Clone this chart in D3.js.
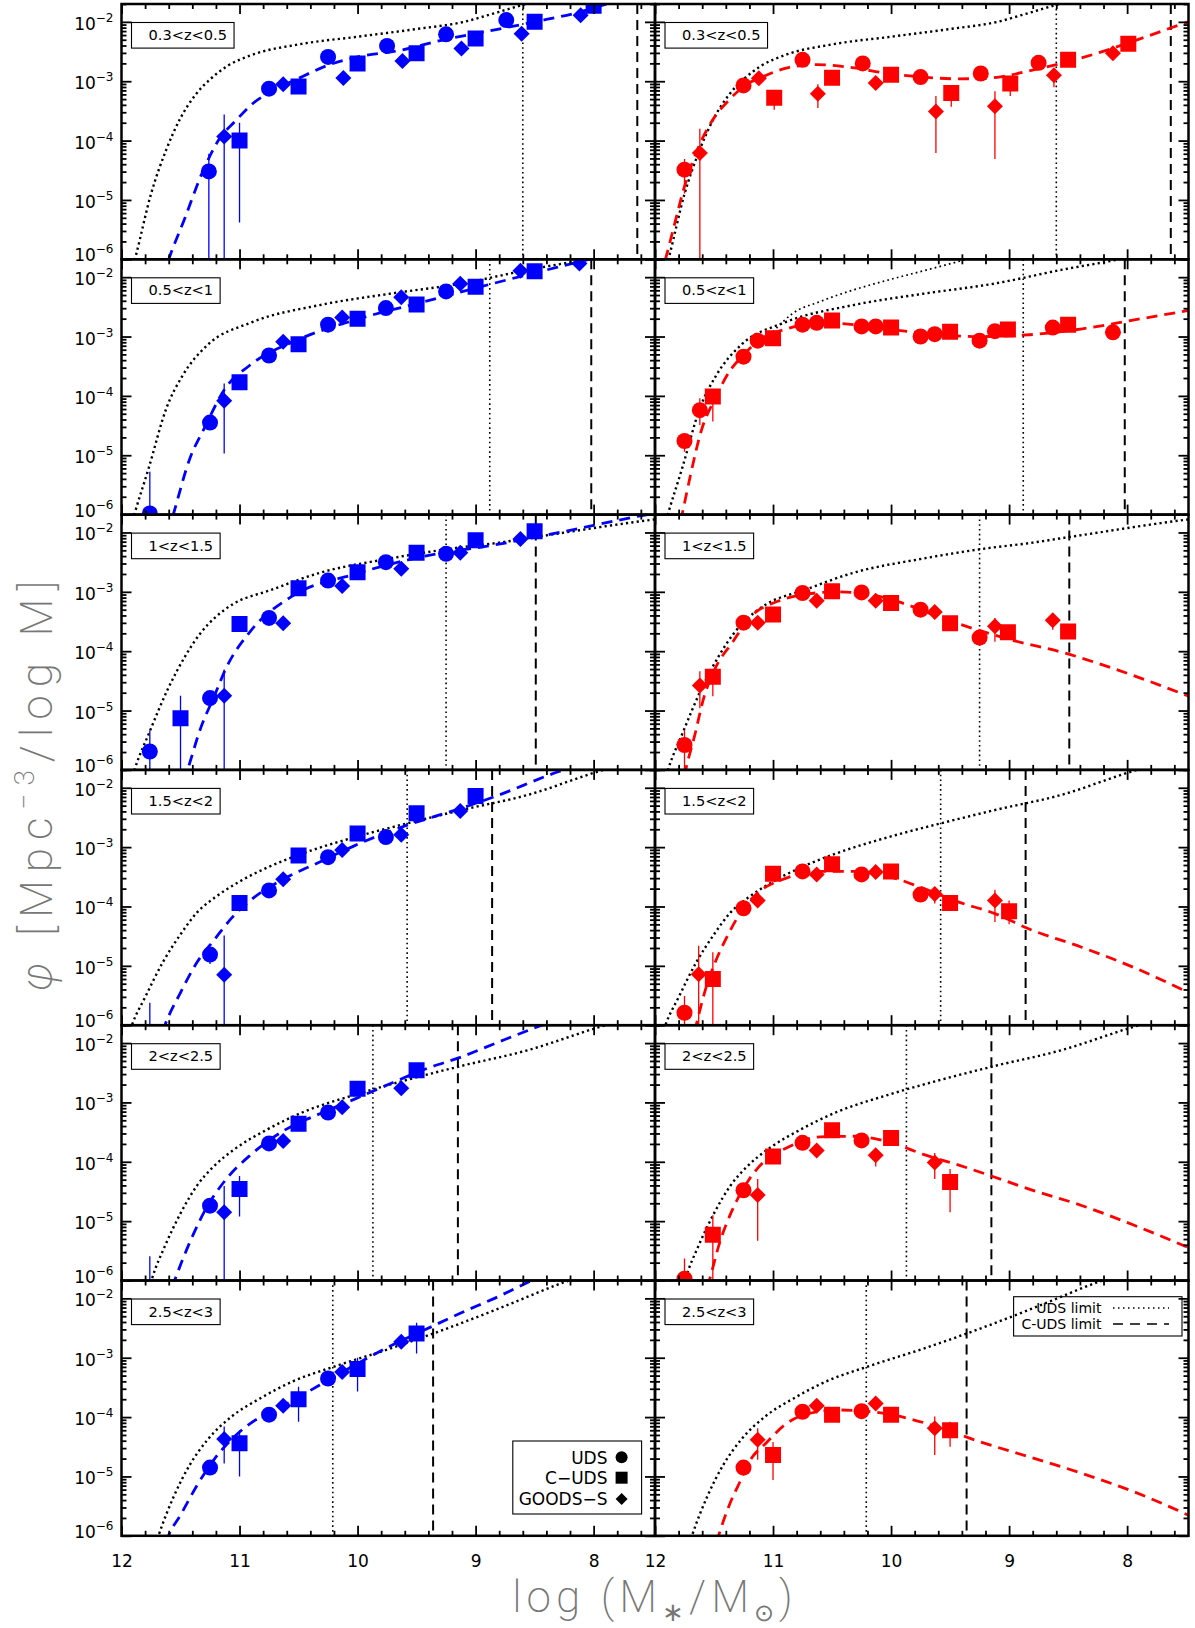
<!DOCTYPE html>
<html><head><meta charset="utf-8">
<script src="https://cdn.jsdelivr.net/npm/d3@7"></script>
<style>body{margin:0;background:#fff}svg{display:block}</style>
</head><body>
<svg id="c" width="1195" height="1628"></svg>
<script>
// ---------- data (log10 mass, log10 phi [, err upper, err lower]) ----------
const zLabels = ["0.3<z<0.5", "0.5<z<1", "1<z<1.5", "1.5<z<2", "2<z<2.5", "2.5<z<3"];
const udsLimit = [8.60, 8.88, 9.25, 9.58, 9.87, 10.21];
const cudsLimit = [7.63, 8.02, 8.49, 8.86, 9.15, 9.36];
const xTickValues = [12, 11, 10, 9, 8];
const yTickValues = [1e-2, 1e-3, 1e-4, 1e-5, 1e-6];

// total mass function (black dotted), one per redshift bin
const totalMF = [
  [[12.0,-6.8],[11.88,-5.95],[11.75,-4.9],[11.62,-4.15],[11.5,-3.62],[11.37,-3.22],[11.25,-2.97],[11.1,-2.74],[10.9,-2.56],[10.5,-2.38],[10.0,-2.25],[9.5,-2.12],[9.1,-2.0],[8.85,-1.86],[8.63,-1.73],[8.4,-1.6]],
  [[12.0,-6.8],[11.89,-5.99],[11.77,-5.22],[11.62,-4.21],[11.48,-3.65],[11.27,-3.14],[10.91,-2.77],[10.32,-2.47],[9.73,-2.28],[9.13,-2.11],[8.54,-1.87],[8.10,-1.71],[7.9,-1.62]],
  [[12.0,-6.8],[11.89,-6.0],[11.76,-5.35],[11.61,-4.65],[11.45,-4.05],[11.34,-3.72],[11.2,-3.42],[11.05,-3.2],[10.75,-2.98],[10.32,-2.68],[9.73,-2.44],[9.2,-2.27],[8.83,-2.18],[8.5,-2.08],[7.52,-1.79],[7.4,-1.76]],
  [[12.0,-6.6],[11.91,-5.99],[11.80,-5.53],[11.65,-4.94],[11.50,-4.47],[11.36,-4.1],[11.21,-3.85],[11.0,-3.58],[10.76,-3.34],[10.47,-3.11],[10.02,-2.83],[9.58,-2.60],[9.13,-2.38],[8.54,-2.11],[8.0,-1.75],[7.9,-1.69]],
  [[11.8,-6.4],[11.74,-5.96],[11.63,-5.41],[11.50,-4.87],[11.36,-4.4],[11.23,-4.1],[11.03,-3.77],[10.76,-3.45],[10.47,-3.17],[10.02,-2.87],[9.58,-2.62],[9.13,-2.39],[8.54,-2.11],[8.0,-1.76],[7.9,-1.7]],
  [[11.75,-6.4],[11.68,-5.96],[11.56,-5.35],[11.42,-4.80],[11.27,-4.38],[11.06,-3.98],[10.83,-3.69],[10.55,-3.40],[10.2,-3.15],[9.73,-2.85],[9.3,-2.55],[8.84,-2.20],[8.24,-1.72],[8.1,-1.62]]
];
// extra fine dotted curve seen in the 0.5<z<1 quiescent panel
const totalMFExtra = [[11.0,-2.92],[10.84,-2.62],[10.6,-2.41],[10.31,-2.21],[10.01,-2.04],[9.72,-1.89],[9.42,-1.73],[9.3,-1.66]];

// star-forming fits (blue dashed)
const sfFit = [
  [[11.7,-6.6],[11.60,-6.0],[11.46,-5.29],[11.32,-4.56],[11.18,-4.0],[11.03,-3.66],[10.89,-3.38],[10.71,-3.15],[10.53,-2.98],[10.25,-2.73],[10.0,-2.59],[9.64,-2.48],[9.29,-2.31],[8.93,-2.17],[8.5,-2.0],[8.11,-1.83],[7.89,-1.70],[7.7,-1.6]],
  [[11.65,-6.6],[11.56,-5.99],[11.42,-5.05],[11.30,-4.55],[11.12,-3.87],[10.91,-3.48],[10.50,-3.05],[10.02,-2.72],[9.43,-2.41],[8.84,-2.10],[8.04,-1.70],[7.9,-1.63]],
  [[11.52,-6.5],[11.44,-6.0],[11.33,-5.30],[11.21,-4.74],[11.12,-4.31],[10.91,-3.67],[10.56,-3.08],[10.02,-2.70],[9.43,-2.40],[8.84,-2.21],[8.24,-1.98],[7.52,-1.69],[7.4,-1.65]],
  [[11.7,-6.4],[11.63,-5.99],[11.50,-5.45],[11.36,-4.94],[11.21,-4.55],[11.06,-4.18],[10.91,-3.90],[10.62,-3.53],[10.32,-3.25],[10.02,-2.97],[9.58,-2.63],[9.13,-2.35],[8.84,-2.15],[8.30,-1.73],[8.1,-1.6]],
  [[11.62,-6.4],[11.55,-6.0],[11.42,-5.35],[11.27,-4.74],[11.12,-4.31],[10.91,-3.89],[10.62,-3.47],[10.32,-3.19],[10.02,-2.94],[9.73,-2.69],[9.43,-2.44],[9.13,-2.24],[8.84,-2.01],[8.48,-1.73],[8.3,-1.6]],
  [[11.67,-6.4],[11.60,-5.99],[11.50,-5.65],[11.36,-5.15],[11.21,-4.70],[11.06,-4.36],[10.91,-4.11],[10.62,-3.80],[10.32,-3.46],[10.02,-3.12],[9.73,-2.81],[9.43,-2.53],[9.13,-2.25],[8.84,-2.0],[8.51,-1.69],[8.4,-1.6]]
];
// quiescent fits (red dashed)
const qFit = [
  [[12.0,-6.6],[11.91,-5.99],[11.84,-5.45],[11.75,-4.77],[11.64,-4.15],[11.52,-3.68],[11.37,-3.31],[11.22,-3.05],[11.07,-2.91],[10.87,-2.77],[10.63,-2.72],[10.33,-2.77],[10.03,-2.87],[9.73,-2.93],[9.43,-2.96],[9.13,-2.94],[8.84,-2.83],[8.54,-2.69],[8.24,-2.52],[7.94,-2.32],[7.54,-2.04],[7.45,-1.98]],
  [[11.82,-6.4],[11.77,-5.99],[11.70,-5.34],[11.61,-4.60],[11.49,-4.04],[11.37,-3.59],[11.25,-3.31],[11.11,-3.05],[10.90,-2.88],[10.60,-2.77],[10.31,-2.80],[10.01,-2.88],[9.72,-2.94],[9.27,-3.0],[8.83,-2.97],[8.38,-2.87],[7.94,-2.72],[7.45,-2.55]],
  [[11.78,-6.4],[11.74,-6.0],[11.67,-5.47],[11.58,-4.74],[11.49,-4.29],[11.34,-3.84],[11.20,-3.44],[10.96,-3.16],[10.75,-3.05],[10.46,-3.0],[10.16,-3.05],[9.86,-3.22],[9.57,-3.44],[9.27,-3.64],[8.98,-3.81],[8.53,-4.03],[8.09,-4.31],[7.45,-4.78]],
  [[11.7,-6.4],[11.65,-5.99],[11.58,-5.45],[11.49,-4.94],[11.40,-4.55],[11.28,-4.12],[11.14,-3.79],[10.90,-3.53],[10.60,-3.41],[10.31,-3.41],[10.01,-3.50],[9.72,-3.70],[9.42,-3.93],[9.12,-4.12],[8.83,-4.38],[8.38,-4.69],[7.94,-5.03],[7.45,-5.48]],
  [[11.6,-6.4],[11.54,-6.0],[11.45,-5.35],[11.34,-4.79],[11.20,-4.29],[11.05,-3.95],[10.90,-3.78],[10.60,-3.58],[10.31,-3.57],[10.01,-3.67],[9.72,-3.88],[9.42,-4.06],[9.12,-4.26],[8.83,-4.46],[8.38,-4.74],[7.94,-5.07],[7.45,-5.47]],
  [[11.52,-6.4],[11.46,-5.99],[11.37,-5.48],[11.28,-5.09],[11.20,-4.75],[11.05,-4.42],[10.90,-4.13],[10.75,-3.97],[10.46,-3.88],[10.16,-3.91],[9.86,-4.02],[9.57,-4.19],[9.27,-4.40],[8.83,-4.67],[8.38,-4.95],[7.94,-5.26],[7.45,-5.68]]
];

// star-forming points
const sfUDS = [
  [[11.26,-4.52,-4.22,-7],[10.75,-3.125],[10.25,-2.59],[9.75,-2.405],[9.25,-2.21],[8.74,-1.97]],
  [[11.76,-5.98,-5.28,-7],[11.25,-4.45],[10.75,-3.32],[10.25,-2.80],[9.76,-2.52],[9.25,-2.24]],
  [[11.76,-5.69,-5.33,-7],[11.25,-4.79],[10.75,-3.44],[10.25,-2.81],[9.76,-2.50],[9.25,-2.36]],
  [[11.76,-6.3,-5.62,-7],[11.25,-4.81,-4.7,-4.97],[10.75,-3.73],[10.25,-3.17],[9.76,-2.83]],
  [[11.76,-6.3,-5.59,-7],[11.25,-4.74],[10.75,-3.69],[10.25,-3.17]],
  [[11.25,-4.85],[10.75,-3.96],[10.25,-3.35]]
];
const sfCUDS = [
  [[11.0,-4.0,-3.70,-5.38],[10.5,-3.09],[10.0,-2.70],[9.5,-2.53],[9.0,-2.28],[8.5,-2.0],[8.0,-1.73]],
  [[11.0,-3.77],[10.5,-3.13],[10.0,-2.70],[9.5,-2.46],[9.0,-2.16],[8.5,-1.90]],
  [[11.5,-5.13,-4.75,-7],[11.0,-3.54],[10.5,-2.94],[10.0,-2.67],[9.5,-2.34],[9.0,-2.13],[8.5,-1.98]],
  [[11.0,-3.94],[10.5,-3.14],[10.0,-2.77],[9.5,-2.43],[9.0,-2.14]],
  [[11.0,-4.46,-4.24,-4.92],[10.5,-3.36],[10.0,-2.77],[9.5,-2.46]],
  [[11.0,-4.44,-4.22,-5.0],[10.5,-3.70,-3.49,-4.08],[10.0,-3.19,-3.0,-3.57],[9.5,-2.59,-2.41,-2.93]]
];
const sfGOODS = [
  [[11.13,-3.93,-3.56,-7],[10.63,-3.05],[10.12,-2.945],[9.62,-2.66],[9.12,-2.45],[8.61,-2.20],[8.11,-1.89]],
  [[11.13,-4.08,-3.79,-4.97],[10.63,-3.09],[10.13,-2.68],[9.63,-2.34],[9.13,-2.11],[8.62,-1.89],[8.12,-1.77]],
  [[11.13,-4.75,-4.31,-7],[10.63,-3.53],[10.13,-2.90],[9.63,-2.61],[9.13,-2.34],[8.62,-2.11]],
  [[11.13,-5.15,-4.49,-7],[10.63,-3.54],[10.13,-3.05],[9.63,-2.79],[9.13,-2.39]],
  [[11.13,-4.85,-4.41,-7],[10.63,-3.65],[10.13,-3.08],[9.63,-2.76]],
  [[11.13,-4.37,-4.16,-4.78],[10.63,-3.81],[10.13,-3.24],[9.63,-2.73]]
];
// quiescent points
const qUDS = [
  [[11.75,-4.49,-4.31,-4.89],[11.25,-3.07],[10.75,-2.64],[10.24,-2.70],[9.75,-2.93],[9.24,-2.87],[8.75,-2.69]],
  [[11.75,-4.76,-4.66,-4.94],[11.62,-4.24,-4.04,-4.49],[11.25,-3.34],[11.13,-3.07],[10.75,-2.80],[10.63,-2.77],[10.25,-2.83],[10.13,-2.83],[9.75,-3.0],[9.63,-2.96],[9.25,-3.07],[9.12,-2.91],[8.63,-2.85],[8.12,-2.93]],
  [[11.75,-5.58,-5.33,-6.2],[11.25,-3.52],[10.75,-3.02],[10.25,-3.01],[9.75,-3.30],[9.25,-3.77]],
  [[11.75,-5.79,-5.51,-7],[11.25,-4.03],[10.75,-3.41],[10.25,-3.46],[9.75,-3.80]],
  [[11.75,-5.97,-5.63,-7],[11.25,-4.48],[10.75,-3.68],[10.25,-3.64]],
  [[11.25,-4.85],[10.75,-3.91],[10.25,-3.90]]
];
const qCUDS = [
  [[10.99,-3.28,-3.2,-3.48],[10.5,-2.94],[10.0,-2.89],[9.49,-3.20,-3.1,-3.43],[8.99,-3.04,-2.95,-3.25],[8.5,-2.64],[7.99,-2.37]],
  [[11.51,-4.01,-3.9,-4.43],[11.0,-3.03],[10.5,-2.73],[10.0,-2.85],[9.5,-2.92],[9.01,-2.88],[8.5,-2.80]],
  [[11.51,-4.43,-4.3,-4.76],[11.0,-3.38],[10.5,-2.99],[10.0,-3.19],[9.5,-3.53],[9.01,-3.68],[8.5,-3.67]],
  [[11.51,-5.22,-4.77,-7],[11.0,-3.45],[10.5,-3.29],[10.0,-3.41],[9.5,-3.94,-3.85,-4.05],[9.0,-4.08,-3.9,-4.3]],
  [[11.51,-5.23,-4.9,-7],[11.0,-3.91],[10.5,-3.47],[10.0,-3.60],[9.5,-4.34,-4.12,-4.85]],
  [[11.0,-4.64,-4.42,-5.06],[10.5,-3.96],[10.0,-3.96],[9.5,-4.22,-4.08,-4.5]]
];
const qGOODS = [
  [[11.62,-4.21,-3.80,-7],[11.12,-2.95],[10.62,-3.21,-3.05,-3.45],[10.13,-3.03],[9.62,-3.51,-3.25,-4.21],[9.12,-3.42,-3.17,-4.31],[8.62,-2.90,-2.8,-3.1],[8.12,-2.53]],
  [],
  [[11.62,-4.58,-4.34,-4.96],[11.13,-3.52],[10.63,-3.15],[10.13,-3.15],[9.63,-3.34],[9.12,-3.58,-3.44,-3.84],[8.63,-3.48,-3.4,-3.64]],
  [[11.63,-5.14,-4.66,-7],[11.13,-3.90],[10.63,-3.46],[10.13,-3.42],[9.63,-3.79,-3.7,-3.95],[9.12,-3.90,-3.72,-4.26]],
  [[11.13,-4.56,-4.29,-5.33],[10.63,-3.81],[10.13,-3.89,-3.8,-4.08],[9.63,-4.01,-3.85,-4.29]],
  [[11.13,-4.38,-4.19,-4.72],[10.63,-3.81],[10.13,-3.77],[9.63,-4.19,-3.99,-4.64]]
];

// ---------- drawing ----------
const svg = d3.select('#c');
const defs = svg.append('defs');
const W = 533.5, H = 255.3, X0 = [121.5, 655], Y0 = 4;
const BLUE = '#0000ff', RED = '#ff0000';
const FONT = "'DejaVu Sans', sans-serif";

function drawMarker(sel, shape, color, x, yv) {
  if (shape === 'circle') {
    sel.append('circle').attr('cx', p => x(p[0])).attr('cy', p => yv(p[1])).attr('r', 8).attr('fill', color);
  } else if (shape === 'square') {
    sel.append('path').attr('d', d3.symbol(d3.symbolSquare, 256)())
      .attr('transform', p => `translate(${x(p[0])},${yv(p[1])})`).attr('fill', color);
  } else {
    sel.append('path').attr('d', d3.symbol(d3.symbolSquare, 128)())
      .attr('transform', p => `translate(${x(p[0])},${yv(p[1])}) rotate(45)`).attr('fill', color);
  }
}

function tickAxis(g, axis, transform, values, size) {
  const a = g.append('g').attr('transform', transform)
    .call(axis.tickValues(values).tickSize(size).tickFormat(''));
  a.select('.domain').remove();
  a.selectAll('text').remove();
  a.selectAll('line').attr('stroke', '#000').attr('stroke-width', 1.8);
}

const minorX = d3.range(0, 23).map(i => 12 - i * 0.2).filter(v => Math.abs(v - Math.round(v)) > 1e-6 && v > 7.48);
const minorY = [];
for (let e = -6; e <= -2; e++) for (let m = 2; m <= 9; m++) { const v = m * Math.pow(10, e); if (v <= 2e-2) minorY.push(v); }

for (let r = 0; r < 6; r++) {
  for (let c = 0; c < 2; c++) {
    const x0 = X0[c], y0 = Y0 + r * H;
    const x = d3.scaleLinear().domain([12, 7.48]).range([x0, x0 + W]);
    const y = d3.scaleLog().domain([1e-6, 2e-2]).range([y0 + H, y0]);
    const yv = v => y(Math.pow(10, v));
    const g = svg.append('g');
    const id = `clip${r}${c}`;
    defs.append('clipPath').attr('id', id).append('rect').attr('x', x0).attr('y', y0).attr('width', W).attr('height', H);
    const inner = g.append('g').attr('clip-path', `url(#${id})`);

    // completeness limits
    inner.append('line').attr('x1', x(udsLimit[r])).attr('x2', x(udsLimit[r])).attr('y1', y0).attr('y2', y0 + H)
      .attr('stroke', '#000').attr('stroke-width', 1.6).attr('stroke-dasharray', '1.6,3.2');
    inner.append('line').attr('x1', x(cudsLimit[r])).attr('x2', x(cudsLimit[r])).attr('y1', y0).attr('y2', y0 + H)
      .attr('stroke', '#000').attr('stroke-width', 2).attr('stroke-dasharray', '10,6');

    const line = d3.line().x(d => x(d[0])).y(d => yv(d[1])).curve(d3.curveMonotoneX);
    inner.append('path').attr('d', line(totalMF[r])).attr('fill', 'none').attr('stroke', '#000')
      .attr('stroke-width', 2.4).attr('stroke-dasharray', '2.2,3.2');
    if (r === 1 && c === 1) {
      inner.append('path').attr('d', line(totalMFExtra)).attr('fill', 'none').attr('stroke', '#000')
        .attr('stroke-width', 1.7).attr('stroke-dasharray', '1.7,3.2');
    }
    const color = c === 0 ? BLUE : RED;
    inner.append('path').attr('d', line(c === 0 ? sfFit[r] : qFit[r])).attr('fill', 'none').attr('stroke', color)
      .attr('stroke-width', 2.8).attr('stroke-dasharray', '11,7');

    const sets = c === 0 ? [[sfUDS, 'circle'], [sfCUDS, 'square'], [sfGOODS, 'diamond']]
                         : [[qUDS, 'circle'], [qCUDS, 'square'], [qGOODS, 'diamond']];
    sets.forEach(([arr, shape]) => {
      const pts = arr[r];
      inner.selectAll(null).data(pts.filter(p => p.length > 2)).enter().append('line')
        .attr('x1', p => x(p[0])).attr('x2', p => x(p[0]))
        .attr('y1', p => yv(p[2])).attr('y2', p => yv(p[3]))
        .attr('stroke', color).attr('stroke-width', 1.3);
      const sel = inner.selectAll(null).data(pts).enter().append('g');
      drawMarker(sel, shape, color, x, yv);
    });

    // ticks (inward, all four sides)
    tickAxis(g, d3.axisBottom(x), `translate(0,${y0 + H})`, xTickValues, -10);
    tickAxis(g, d3.axisBottom(x), `translate(0,${y0 + H})`, minorX, -5);
    tickAxis(g, d3.axisTop(x), `translate(0,${y0})`, xTickValues, -10);
    tickAxis(g, d3.axisTop(x), `translate(0,${y0})`, minorX, -5);
    tickAxis(g, d3.axisLeft(y), `translate(${x0},0)`, yTickValues, -10);
    tickAxis(g, d3.axisLeft(y), `translate(${x0},0)`, minorY, -5);
    tickAxis(g, d3.axisRight(y), `translate(${x0 + W},0)`, yTickValues, -10);
    tickAxis(g, d3.axisRight(y), `translate(${x0 + W},0)`, minorY, -5);

    g.append('rect').attr('x', x0).attr('y', y0).attr('width', W).attr('height', H)
      .attr('fill', 'none').attr('stroke', '#000').attr('stroke-width', 2.5);

    // redshift label box
    const lt = g.append('text').attr('x', x0 + 27).attr('y', y0 + 36)
      .attr('font-family', FONT).attr('font-size', 14.6).attr('fill', '#000').text(zLabels[r]);
    const tw = lt.node().getComputedTextLength();
    g.insert('rect', 'text').attr('x', x0 + 10).attr('y', y0 + 18.5).attr('width', tw + 24).attr('height', 25.6)
      .attr('fill', '#fff').attr('stroke', '#000').attr('stroke-width', 1.1);

    // y tick labels (left column)
    if (c === 0) {
      const la = g.append('g').attr('transform', `translate(${x0},0)`)
        .call(d3.axisLeft(y).tickValues(yTickValues).tickSize(0).tickPadding(8).tickFormat(''));
      la.select('.domain').remove();
      la.attr('font-family', FONT).attr('font-size', 17);
      la.selectAll('.tick text').each(function (d) {
        const t = d3.select(this).attr('fill', '#000').attr('dy', null).attr('y', d === 1e-6 ? 1.5 : 7.5);
        t.append('tspan').text('10');
        t.append('tspan').attr('font-size', 12).attr('dy', -8).text('−' + Math.round(-Math.log10(d)));
      });
    }
    // x tick labels (bottom row)
    if (r === 5) {
      const xa = g.append('g').attr('transform', `translate(0,${y0 + H})`)
        .call(d3.axisBottom(x).tickValues(xTickValues).tickSize(0).tickFormat(d3.format('d')));
      xa.select('.domain').remove();
      xa.attr('font-family', FONT).attr('font-size', 17);
      xa.selectAll('.tick text').attr('fill', '#000').attr('dy', null).attr('y', 31.5);
    }

    // legends
    if (r === 5 && c === 0) {
      const lg = g.append('g');
      lg.append('rect').attr('x', x0 + W - 142.2).attr('y', y0 + 160.5).attr('width', 128.8).attr('height', 73)
        .attr('fill', 'none').attr('stroke', '#000').attr('stroke-width', 1.1);
      const names = ['UDS', 'C\u2212UDS', 'GOODS\u2212S'], shapes = ['circle', 'square', 'diamond'], cy = [176.8, 197.2, 218.5];
      names.forEach((n, i) => {
        lg.append('text').attr('x', x0 + W - 47.5).attr('y', y0 + cy[i] + 6.3).attr('text-anchor', 'end')
          .attr('font-family', FONT).attr('font-size', 17).attr('fill', '#000').text(n);
        const sx = x0 + W - 33.4, sy = y0 + cy[i];
        if (shapes[i] === 'circle') lg.append('circle').attr('cx', sx).attr('cy', sy).attr('r', 6).attr('fill', '#000');
        else if (shapes[i] === 'square') lg.append('rect').attr('x', sx - 6).attr('y', sy - 6).attr('width', 12).attr('height', 12).attr('fill', '#000');
        else lg.append('path').attr('d', d3.symbol(d3.symbolSquare, 72)()).attr('transform', `translate(${sx},${sy}) rotate(45)`).attr('fill', '#000');
      });
    }
    if (r === 5 && c === 1) {
      const lg = g.append('g');
      lg.append('rect').attr('x', x0 + 358.6).attr('y', y0 + 16.2).attr('width', 168.4).attr('height', 39.3)
        .attr('fill', 'none').attr('stroke', '#000').attr('stroke-width', 1.1);
      const names = ['UDS limit', 'C-UDS limit'], dash = ['1.5,3.5', '10,7'], cy = [27.5, 43.5];
      names.forEach((n, i) => {
        lg.append('text').attr('x', x0 + 446.5).attr('y', y0 + cy[i] + 5).attr('text-anchor', 'end')
          .attr('font-family', FONT).attr('font-size', 14).attr('fill', '#000').text(n);
        lg.append('line').attr('x1', x0 + 458).attr('x2', x0 + 514).attr('y1', y0 + cy[i]).attr('y2', y0 + cy[i])
          .attr('stroke', '#000').attr('stroke-width', 1.3).attr('stroke-dasharray', dash[i]);
      });
    }
  }
}

// axis titles
const TF = "Roboto, 'Open Sans', sans-serif";
const xt = svg.append('text').attr('x', 655).attr('y', 1612).attr('text-anchor', 'middle')
  .attr('font-family', TF).attr('font-weight', 200).attr('font-size', 44).attr('fill', '#777')
  .attr('letter-spacing', 5);
xt.append('tspan').text('log (M');
xt.append('tspan').attr('font-size', 26).attr('dy', 9).text('\u2217');
xt.append('tspan').attr('dy', -9).text('/M');
xt.append('tspan').attr('font-size', 24).attr('dy', 9).attr('font-family', "'DejaVu Sans'").text('\u2299');
xt.append('tspan').attr('dy', -9).text(')');

const yt = svg.append('text').attr('transform', 'translate(52,782) rotate(-90)').attr('text-anchor', 'middle')
  .attr('font-family', TF).attr('font-weight', 200).attr('font-size', 44).attr('fill', '#777')
  .attr('letter-spacing', 8);
yt.append('tspan').attr('font-style', 'italic').text('\u03c6');
yt.append('tspan').text(' [Mpc');
yt.append('tspan').attr('font-size', 28).attr('dy', -18).text('\u22123');
yt.append('tspan').attr('dy', 18).text('/log M]');
</script>
</body></html>
